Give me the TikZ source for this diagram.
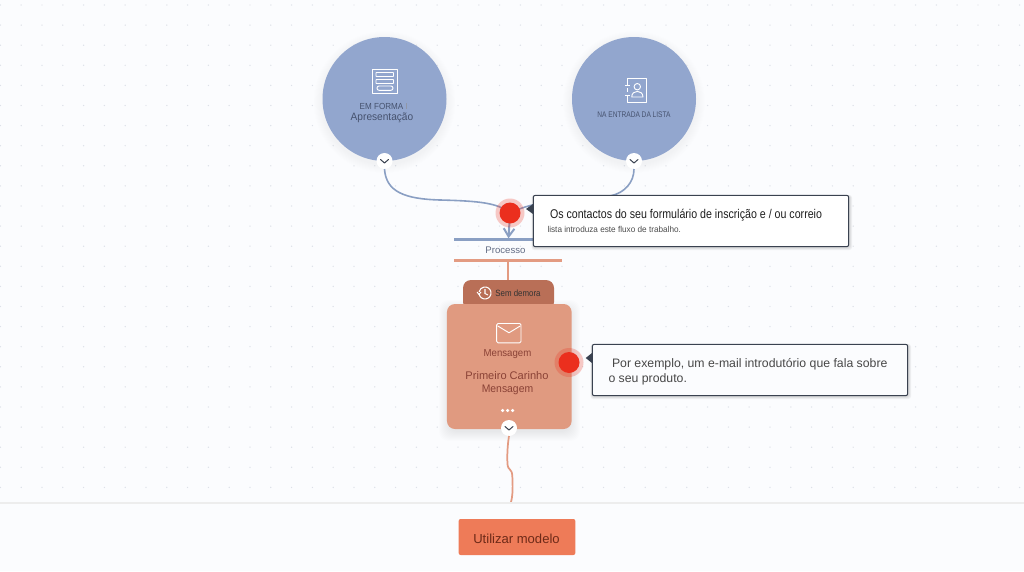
\documentclass[tikz,border=0pt]{standalone}
\usepackage{fontspec}
\setmainfont{Liberation Sans}
\usetikzlibrary{arrows.meta}
\definecolor{bgc}{HTML}{FBFCFE}
\definecolor{dotc}{HTML}{DDE1E8}
\definecolor{bluec}{HTML}{92A6CE}
\definecolor{linec}{HTML}{8A9FC3}
\definecolor{bluetxt}{HTML}{46526E}
\definecolor{orc}{HTML}{E09A80}
\definecolor{tabc}{HTML}{B96F57}
\definecolor{orl}{HTML}{E39B82}
\definecolor{ortxt}{HTML}{8A4236}
\definecolor{redc}{HTML}{EB2F1E}
\definecolor{btnc}{HTML}{EE7B58}
\definecolor{btntxt}{HTML}{6E2A18}
\definecolor{calb}{HTML}{3A4250}
\tikzset{
  x=0.75pt,y=-0.75pt,
  inner sep=0pt,outer sep=0pt,
  stepcircle/.style={circle,fill=bluec,minimum size=93pt},
  togglenode/.style={circle,fill=white,minimum size=12pt},
  chev/.style={draw=calb,line width=0.75pt,line cap=round,line join=round},
  iconline/.style={draw=white,line width=0.7pt,line join=round},
  reddot/.style={circle,fill=redc,minimum size=15.75pt},
  halodot/.style={circle,fill=redc,fill opacity=0.25,minimum size=21.75pt},
  calloutbox/.style={draw=calb,line width=0.75pt,fill=white,rounded corners=1.5pt},
  bluetext/.style={text=bluetxt,anchor=center},
  ortext/.style={text=ortxt,anchor=center},
  bluelink/.style={draw=linec,line width=1.2pt},
  orlink/.style={draw=orl,line width=1.5pt},
}
\newcommand{\softshadow}[3]{%
  \foreach \k in {1,...,10}{
    \fill[black,opacity=0.005] (#1,#2+3) circle[radius=(#3+\k*0.9)*0.75pt];
  }
}
\begin{document}
\begin{tikzpicture}
\useasboundingbox (0,0) rectangle (1024,571);
\fill[bgc] (0,0) rectangle (1024,571);
% dot grid
\foreach \i in {0,...,49}{
  \foreach \j in {0,...,24}{
    \fill[dotc] (0.4+\i*20.8,5+\j*20.1) circle[radius=0.55pt];
  }
}
% shadows
\softshadow{384.5}{99}{62}
\softshadow{634}{99}{62}
\node[stepcircle] (form) at (384.5,99) {};
\node[stepcircle] (list) at (634,99) {};
\node[togglenode] (t1) at (384.5,161) {};
\node[togglenode] (t2) at (634,161) {};
\node[minimum size=1pt] (bluebar) at (508.5,239) {};
\coordinate (hub) at (510,213);
\draw[bluelink] (t1.south) .. controls (386,192) and (405,199) .. (440,200) .. controls (480,201) and (498,203) .. (hub);
\draw[bluelink] (t2.south) .. controls (634,182) and (625,193) .. (610,196) .. controls (580,200) and (540,198) .. (hub);
\draw[bluelink,line width=1.5pt,-{Straight Barb[length=6pt,width=8pt]}] (hub) -- (bluebar.north);
% bars
\draw[linec,line width=1.9pt] (454,239.5) -- (562,239.5);
\node[text=bluetxt!85,font=\fontsize{7.2pt}{9pt}\selectfont] (proc) at (505.5,250) {Processo};
\draw[orl,line width=1.6pt] (454,260.5) -- (562,260.5);
% card
\foreach \k in {1,...,10}{
  \fill[black,opacity=0.006,rounded corners=7pt] (449-\k,306-\k+4) rectangle (570+\k,427+\k+4);
}
\node[fill=tabc,minimum width=68.25pt,minimum height=22.5pt,rounded corners=6pt] (tab) at (508.5,295) {};
\draw[orlink] (507.5,261) -- (tab.north -| 507.5,0);
\node[fill=orc,minimum width=93.5pt,minimum height=93.75pt,rounded corners=6pt] (card) at (509.3,366.5) {};
\node[togglenode] (t3) at (509,428) {};
% link to the footer
\coordinate (foot) at (510.7,503);
\draw[orlink,line width=1.3pt] (t3.south) .. controls (507.5,445) and (507,456) .. (507.5,464) .. controls (508,471) and (512,468) .. (512.3,476) .. controls (512.8,485) and (513,496) .. (foot);
% footer
\fill[bgc] (0,503) rectangle (1024,571);
\draw[black!7,line width=0.8pt] (0,503) -- (1024,503);
\node[fill=btnc,minimum width=87.5pt,minimum height=27pt,rounded corners=1.5pt] (btn) at (517,537) {};
\node[text=btntxt,font=\fontsize{9.8pt}{11pt}\selectfont] (btnt) at (516.5,538.5) {Utilizar modelo};
% chevrons
\draw[chev] (380.5,159.5) -- (384.5,163) -- (388.5,159.5);
\draw[chev] (630,159.5) -- (634,163) -- (638,159.5);
\draw[chev] (505,426.5) -- (509,430) -- (513,426.5);
% form icon
\draw[iconline] (372.8,69.3) rectangle (397.6,93.3);
\draw[iconline,rounded corners=0.4pt] (376,72.5) rectangle (393.5,76.5);
\draw[iconline,rounded corners=0.4pt] (376,79.5) rectangle (393.5,83.5);
\draw[iconline,rounded corners=1.5pt] (377,86) rectangle (393,90.3);
\node[bluetext,font=\fontsize{6.6pt}{8pt}\selectfont] (formt1) at (381.5,106) {\scalebox{0.92}[1]{EM FORMA}};
\draw[bluetxt!60,line width=0.4pt] (406.5,103) -- (406.5,109);
\node[bluetext,font=\fontsize{8pt}{10pt}\selectfont] (formt2) at (382,118.2) {\scalebox{0.95}[1]{Apresentação}};
% contact icon
\draw[iconline] (627,85) -- (627,78) -- (646.5,78) -- (646.5,102.5) -- (627,102.5) -- (627,95);
\draw[iconline] (627,88) -- (627,92);
\draw[iconline] (624.8,85.5) -- (629.5,85.5) (624.8,95) -- (629.5,95);
\draw[iconline] (637.3,86.7) circle[radius=3.2];
\draw[iconline] (631.7,97) .. controls (631.7,89.5) and (643,89.5) .. (643,97) -- cycle;
\node[bluetext,font=\fontsize{6.1pt}{8pt}\selectfont] (listt) at (634,114.5) {\scalebox{0.81}[1]{NA ENTRADA DA LISTA}};
% history icon
\draw[draw=white,line width=0.8pt] (479.1,294) arc[start angle=170,end angle=-170,radius=6];
\draw[draw=white,line width=0.8pt] (485,289) -- (485,293.5) -- (488,295);
\draw[draw=white,line width=0.7pt] (477,292) -- (479,294.5) -- (481,292);
\node[text=black!80,font=\fontsize{6.8pt}{8pt}\selectfont] (delay) at (518,293) {\scalebox{0.87}[1]{Sem demora}};
% envelope
\draw[iconline,rounded corners=1pt] (496.7,323.5) rectangle (521,342.8);
\draw[iconline] (497.5,325.8) -- (509,332.8) -- (520.5,325.8);
\node[ortext,font=\fontsize{7.6pt}{9pt}\selectfont] (msgk) at (507.5,354) {\scalebox{0.95}[1]{Mensagem}};
\node[ortext,font=\fontsize{8.3pt}{10pt}\selectfont] (msg1) at (507,375.5) {Primeiro Carinho};
\node[ortext,font=\fontsize{8.2pt}{10pt}\selectfont] (msg2) at (507.5,389.5) {\scalebox{0.95}[1]{Mensagem}};
\foreach \xx in {502.7,507.7,512.7}{\fill[white] (\xx,410.5) circle[radius=1.3pt];}
% red dots
\node[halodot] (h1) at (510,213) {};
\node[reddot] (r1) at (510,213) {};
\node[halodot] (h2) at (569,362.5) {};
\node[reddot] (r2) at (569,362.5) {};
% callouts
\foreach \k in {1,...,3}{
  \fill[black,opacity=0.05,rounded corners=2pt] (533-\k*0.5,195) rectangle (849+\k,247+\k);
  \fill[black,opacity=0.05,rounded corners=2pt] (592-\k*0.5,344) rectangle (908+\k,396+\k);
}
\node[calloutbox,minimum width=236.5pt,minimum height=38.5pt] (c1) at (691,221) {};
\fill[calb] (526,209) -- (533,204) -- (533,214) -- cycle;
\node[calloutbox,fill=bgc,minimum width=236.5pt,minimum height=38.5pt] (c2) at (750,370) {};
\fill[calb] (585.7,358) -- (592,353) -- (592,363) -- cycle;
\node[anchor=west,text=black!88,font=\fontsize{9.5pt}{11pt}\selectfont] (c1a) at (550,215) {\scalebox{0.84}[1]{Os contactos do seu formulário de inscrição e / ou correio}};
\node[anchor=west,text=black!70,font=\fontsize{6.4pt}{8pt}\selectfont] (c1b) at (547.5,229) {\scalebox{0.96}[1]{lista introduza este fluxo de trabalho.}};
\node[anchor=west,text=black!72,font=\fontsize{9.2pt}{11pt}\selectfont] (c2a) at (612,364.2) {Por exemplo, um e-mail introdutório que fala sobre};
\node[anchor=west,text=black!72,font=\fontsize{9.2pt}{11pt}\selectfont] (c2b) at (608.5,379.2) {o seu produto.};
\end{tikzpicture}
\end{document}
